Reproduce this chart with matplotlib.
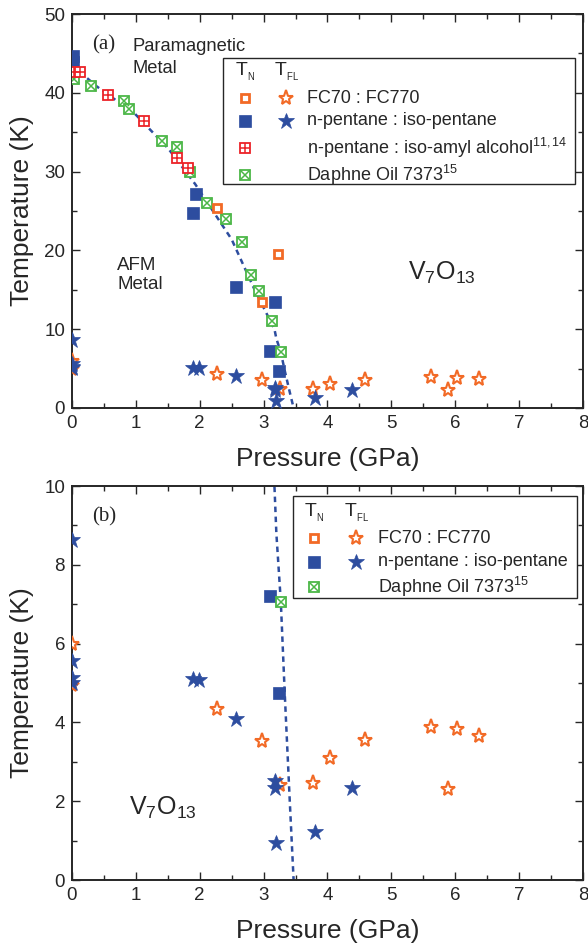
import numpy as np
import matplotlib
matplotlib.use("Agg")
import matplotlib.pyplot as plt
from matplotlib.patches import Rectangle
from matplotlib.ticker import MultipleLocator

plt.rcParams['font.family'] = ['Liberation Sans', 'DejaVu Sans']
plt.rcParams['mathtext.fontset'] = 'custom'
plt.rcParams['mathtext.rm'] = 'Liberation Sans'
plt.rcParams['mathtext.it'] = 'Liberation Sans:italic'
plt.rcParams['mathtext.bf'] = 'Liberation Sans:bold'

# T_N data (GPa, K)
fc_sq_p = [2.27, 2.97, 3.23]
fc_sq_t = [25.4, 13.4, 19.5]
np_sq_p = [0.02, 0.02, 1.89, 1.94, 2.57, 3.10, 3.18, 3.24]
np_sq_t = [44.7, 43.9, 24.8, 27.1, 15.4, 7.2, 13.4, 4.75]
iaa_p = [0.03, 0.13, 0.57, 1.12, 1.65, 1.82]
iaa_t = [42.7, 42.7, 39.7, 36.4, 31.7, 30.4]
daph_p = [0.03, 0.30, 0.81, 0.90, 1.41, 1.65, 1.85, 2.12, 2.41, 2.66, 2.81, 2.93, 3.13, 3.27]
daph_t = [41.7, 40.9, 38.9, 38.0, 33.9, 33.1, 30.0, 26.0, 24.0, 21.1, 16.9, 14.8, 11.0, 7.07]

# T_FL data
fc_star_p = [0.0, 0.0, 2.27, 2.98, 3.26, 3.78, 4.04, 4.58, 5.62, 5.88, 6.03, 6.37]
fc_star_t = [6.0, 4.95, 4.34, 3.53, 2.42, 2.47, 3.10, 3.55, 3.89, 2.30, 3.83, 3.66]
np_star_p = [0.0, 0.0, 0.0, 0.0, 1.90, 1.99, 2.57, 3.18, 3.18, 3.20, 3.80, 4.38]
np_star_t = [8.63, 5.57, 5.14, 5.01, 5.10, 5.08, 4.08, 2.51, 2.34, 0.94, 1.23, 2.34]

# phase boundary (dashed)
line_p = [0.0, 0.39, 0.99, 1.51, 1.93, 2.50, 2.86, 3.17, 3.20, 3.27, 3.33, 3.41, 3.47]
line_t = [43.5, 40.8, 37.3, 32.9, 28.4, 21.4, 15.0, 10.0, 8.8, 7.06, 4.78, 2.0, 0.0]

BLUE = '#2d4d9f'
ORANGE = '#f26a26'
RED = '#ec2227'
GREEN = '#4cb748'
DARK = '#262626'

sq_open = dict(marker='s', ms=6.2, mfc='white', mec=ORANGE, mew=2.0, ls='none')
sq_blue = dict(marker='s', ms=8.8, mfc=BLUE, mec=BLUE, mew=0.5, ls='none')
sq_red = dict(marker='s', ms=7.4, mfc='white', mec=RED, mew=1.3, ls='none')
plus_red = dict(marker='+', ms=7.4, mec=RED, mew=1.1, ls='none')
sq_green = dict(marker='s', ms=7.4, mfc='white', mec=GREEN, mew=1.3, ls='none')
x_green = dict(marker='x', ms=6.6, mec=GREEN, mew=1.1, ls='none')
star_open = dict(marker='*', ms=11, mfc='white', mec=ORANGE, mew=1.5, ls='none')
star_blue = dict(marker='*', ms=12, mfc=BLUE, mec=BLUE, mew=0.5, ls='none')


def draw_data(ax):
    ax.plot(line_p, line_t, color=BLUE, lw=1.8, ls=(0, (2.2, 1.8)), zorder=2)
    ax.plot(fc_star_p, fc_star_t, zorder=3, **star_open)
    ax.plot(np_star_p, np_star_t, zorder=4, **star_blue)
    ax.plot(np_sq_p, np_sq_t, zorder=4, **sq_blue)
    ax.plot(daph_p, daph_t, zorder=5, **sq_green)
    ax.plot(daph_p, daph_t, zorder=5, **x_green)
    ax.plot(iaa_p, iaa_t, zorder=6, **sq_red)
    ax.plot(iaa_p, iaa_t, zorder=6, **plus_red)
    ax.plot(fc_sq_p, fc_sq_t, zorder=7, **sq_open)


def draw_legend(ax, box, head_y, col1, col2, text_x, rows):
    x0, y0, x1, y1 = box
    ax.add_patch(Rectangle((x0, y0), x1 - x0, y1 - y0, transform=ax.transAxes,
                           facecolor='white', edgecolor=DARK, lw=1.0, zorder=8))
    ax.text(col1, head_y, r'$\mathrm{T_{_N}}$', transform=ax.transAxes, ha='center',
            va='center', fontsize=14, color=DARK, zorder=9)
    ax.text(col2, head_y, r'$\mathrm{T_{_{FL}}}$', transform=ax.transAxes, ha='center',
            va='center', fontsize=14, color=DARK, zorder=9)
    for y, m1, m2, label in rows:
        for st in m1:
            ax.plot([col1], [y], transform=ax.transAxes, clip_on=False, zorder=9, **st)
        for st in m2:
            ax.plot([col2], [y], transform=ax.transAxes, clip_on=False, zorder=9, **st)
        ax.text(text_x, y, label, transform=ax.transAxes, ha='left', va='center',
                fontsize=13, color=DARK, zorder=9)


def style_axes(ax, ymax, ymajor, yminor):
    ax.set_xlim(0, 8)
    ax.set_ylim(0, ymax)
    ax.xaxis.set_major_locator(MultipleLocator(1))
    ax.xaxis.set_minor_locator(MultipleLocator(0.5))
    ax.yaxis.set_major_locator(MultipleLocator(ymajor))
    ax.yaxis.set_minor_locator(MultipleLocator(yminor))
    ax.tick_params(which='both', direction='in', top=True, right=True,
                   labelsize=13.5, colors=DARK, width=1.0, pad=5)
    ax.tick_params(which='major', length=6)
    ax.tick_params(which='minor', length=3.5)
    for sp in ax.spines.values():
        sp.set_linewidth(1.4)
        sp.set_color(DARK)
    ax.set_xlabel('Pressure (GPa)', fontsize=19, color=DARK)
    ax.set_ylabel('Temperature (K)', fontsize=19, color=DARK)
    ax.xaxis.set_label_coords(0.5, -0.098)
    ax.yaxis.set_label_coords(-0.074, 0.5)
    ax.xaxis.label.set_va('top')


fig = plt.figure(figsize=(5.88, 9.47), dpi=100)
ax_a = fig.add_axes([0.1224, 0.5692, 0.869, 0.416])
ax_b = fig.add_axes([0.1224, 0.0707, 0.869, 0.416])

# panel (a)
draw_data(ax_a)
style_axes(ax_a, 50, 10, 5)
ax_a.text(0.04, 0.921, '(a)', transform=ax_a.transAxes, fontsize=15,
          family='Liberation Serif', va='center', color=DARK)
ax_a.text(0.119, 0.906, 'Paramagnetic', transform=ax_a.transAxes,
          fontsize=13.2, va='baseline', color=DARK)
ax_a.text(0.119, 0.850, 'Metal', transform=ax_a.transAxes,
          fontsize=13.2, va='baseline', color=DARK)
ax_a.text(0.089, 0.383, 'AFM\nMetal', transform=ax_a.transAxes,
          fontsize=13.5, va='top', color=DARK, linespacing=1.15)
ax_a.text(0.657, 0.375, r'$\mathrm{V_7O_{13}}$', transform=ax_a.transAxes,
          fontsize=18, va='top', color=DARK)
draw_legend(ax_a, (0.296, 0.568, 0.984, 0.889), 0.852, 0.339, 0.419, 0.460, [
    (0.786, [sq_open], [star_open], 'FC70 : FC770'),
    (0.729, [sq_blue], [star_blue], 'n-pentane : iso-pentane'),
    (0.659, [sq_red, plus_red], [], r'n-pentane : iso-amyl alcohol$^{\mathrm{11,14}}$'),
    (0.591, [sq_green, x_green], [], r'Daphne Oil 7373$^{\mathrm{15}}$'),
])

# panel (b)
draw_data(ax_b)
style_axes(ax_b, 10, 2, 1)
ax_b.text(0.04, 0.921, '(b)', transform=ax_b.transAxes, fontsize=15,
          family='Liberation Serif', va='center', color=DARK)
ax_b.text(0.112, 0.217, r'$\mathrm{V_7O_{13}}$', transform=ax_b.transAxes,
          fontsize=18, va='top', color=DARK)
draw_legend(ax_b, (0.433, 0.715, 0.988, 0.975), 0.932, 0.474, 0.556, 0.598, [
    (0.867, [sq_open], [star_open], 'FC70 : FC770'),
    (0.808, [sq_blue], [star_blue], 'n-pentane : iso-pentane'),
    (0.744, [sq_green, x_green], [], r'Daphne Oil 7373$^{\mathrm{15}}$'),
])

fig.savefig('out.png', dpi=100)
